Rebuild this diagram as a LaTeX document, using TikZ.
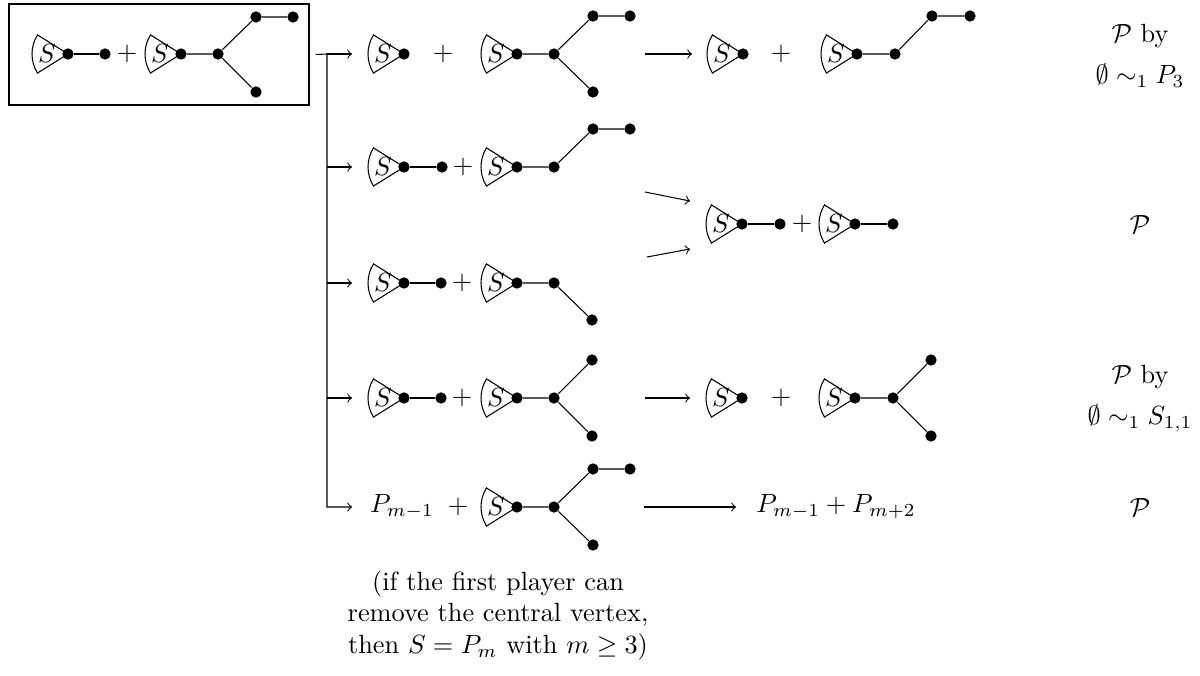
\documentclass[tikz,border=0pt]{standalone}
\usepackage{amsmath,amssymb}
\tikzset{
  fan/.pic={\draw[line width=0.4pt] (0,0) -- (148:36) arc[start angle=148,end angle=212,radius=36] -- cycle;
            \node (-s) at (-21,0) {$S$};},
}
\begin{document}
\begin{tikzpicture}[x=0.38pt,y=-0.38pt,
  dot/.style={circle,fill=black,inner sep=0pt,minimum size=4.3pt},
  outerbox/.style={draw,line width=1pt,inner sep=0pt,minimum width=114pt,minimum height=38.4pt,outer sep=2.5pt},
  arr/.style={->,line width=0.4pt},
  pl/.style={inner sep=0pt},
  lbl/.style={anchor=base,inner sep=0pt},
]
\useasboundingbox (0,0) rectangle (1200,676);

% ---------- start position (boxed) ----------
\node[outerbox] (box) at (159,54.5) {};
\pic (f0a) at (68,54) {fan};
\pic (f0b) at (181,54) {fan};
\node[dot] (b1) at (68,54) {};
\node[dot] (b2) at (105,54) {};
\node[pl]  (p0) at (127,54) {$+$};
\node[dot] (b3) at (181,54) {};
\node[dot] (b4) at (218,54) {};
\node[dot] (b5) at (256,17) {};
\node[dot] (b6) at (293,17) {};
\node[dot] (b7) at (256,92) {};
\draw (b1) -- (b2);
\draw (b3) -- (b4) -- (b5) -- (b6);
\draw (b4) -- (b7);

% ---------- branching connector ----------
\coordinate (j0) at (327,54);
\coordinate (j2) at (327,167);
\coordinate (j3) at (327,283);
\coordinate (j4) at (327,398);
\coordinate (j5) at (327,507);
\coordinate (e1) at (352,54);
\coordinate (e2) at (352,167);
\coordinate (e3) at (352,283);
\coordinate (e4) at (352,398);
\coordinate (e5) at (352,507);
\draw[arr] (box.east) -- (j0) -- (j5) -- (e5);
\draw[arr] (j0) -- (e1);
\draw[arr] (j2) -- (e2);
\draw[arr] (j3) -- (e3);
\draw[arr] (j4) -- (e4);

% ---------- row 1 ----------
\pic (f1a) at (404,54) {fan};
\pic (f1b) at (517,54) {fan};
\node[dot] (a1) at (404,54) {};
\node[pl]  (p1) at (443,54) {$+$};
\node[dot] (a2) at (517,54) {};
\node[dot] (a3) at (554,54) {};
\node[dot] (a4) at (593,16) {};
\node[dot] (a5) at (630,16) {};
\node[dot] (a6) at (593,92) {};
\draw (a2) -- (a3) -- (a4) -- (a5);
\draw (a3) -- (a6);
\coordinate (s1) at (645,54);
\coordinate (t1) at (692,54);
\draw[arr] (s1) -- (t1);
\pic (f1c) at (743,54) {fan};
\pic (f1d) at (857,54) {fan};
\node[dot] (c1) at (743,54) {};
\node[pl]  (q1) at (781,54) {$+$};
\node[dot] (c2) at (857,54) {};
\node[dot] (c3) at (895,54) {};
\node[dot] (c4) at (932,16) {};
\node[dot] (c5) at (970,16) {};
\draw (c2) -- (c3) -- (c4) -- (c5);
\node[lbl] (l1a) at (1140,43) {$\mathcal{P}$ by};
\node[lbl] (l1b) at (1140,84) {$\emptyset \sim_1 P_3$};

% ---------- row 2 ----------
\pic (f2a) at (404,167) {fan};
\pic (f2b) at (517,167) {fan};
\node[dot] (d1) at (404,167) {};
\node[dot] (d2) at (442,167) {};
\node[pl]  (p2) at (463,167) {$+$};
\node[dot] (d3) at (517,167) {};
\node[dot] (d4) at (554,167) {};
\node[dot] (d5) at (593,129) {};
\node[dot] (d6) at (630,129) {};
\draw (d1) -- (d2);
\draw (d3) -- (d4) -- (d5) -- (d6);

% ---------- row 3 ----------
\pic (f3a) at (404,283) {fan};
\pic (f3b) at (517,283) {fan};
\node[dot] (g1) at (404,283) {};
\node[dot] (g2) at (441,283) {};
\node[pl]  (p3) at (462,283) {$+$};
\node[dot] (g3) at (517,283) {};
\node[dot] (g4) at (554,283) {};
\node[dot] (g5) at (592,320) {};
\draw (g1) -- (g2);
\draw (g3) -- (g4) -- (g5);

% ---------- merged result of rows 2 and 3 ----------
\coordinate (ms1) at (645,192);
\coordinate (mt1) at (690,201);
\coordinate (ms2) at (647,257);
\coordinate (mt2) at (690,249);
\draw[arr] (ms1) -- (mt1);
\draw[arr] (ms2) -- (mt2);
\pic (fma) at (742,224) {fan};
\pic (fmb) at (855,224) {fan};
\node[dot] (m1) at (742,224) {};
\node[dot] (m2) at (780,224) {};
\node[pl]  (pm) at (802,224) {$+$};
\node[dot] (m3) at (855,224) {};
\node[dot] (m4) at (893,224) {};
\draw (m1) -- (m2);
\draw (m3) -- (m4);
\node (lm) at (1140,225) {$\mathcal{P}$};

% ---------- row 4 ----------
\pic (f4a) at (404,398) {fan};
\pic (f4b) at (517,398) {fan};
\node[dot] (h1) at (404,398) {};
\node[dot] (h2) at (441,398) {};
\node[pl]  (p4) at (462,398) {$+$};
\node[dot] (h3) at (517,398) {};
\node[dot] (h4) at (554,398) {};
\node[dot] (h5) at (592,360) {};
\node[dot] (h6) at (592,436) {};
\draw (h1) -- (h2);
\draw (h3) -- (h4) -- (h5);
\draw (h4) -- (h6);
\coordinate (s4) at (645,398);
\coordinate (t4) at (690,398);
\draw[arr] (s4) -- (t4);
\pic (f4c) at (742,398) {fan};
\pic (f4d) at (855,398) {fan};
\node[dot] (k1) at (742,398) {};
\node[pl]  (q4) at (781,398) {$+$};
\node[dot] (k2) at (855,398) {};
\node[dot] (k3) at (893,398) {};
\node[dot] (k4) at (931,360) {};
\node[dot] (k5) at (931,436) {};
\draw (k2) -- (k3) -- (k4);
\draw (k3) -- (k5);
\node[lbl] (l4a) at (1140,384) {$\mathcal{P}$ by};
\node[lbl] (l4b) at (1140,425) {$\emptyset \sim_1 S_{1,1}$};

% ---------- row 5 ----------
\node (pa) at (402,507) {$P_{m-1}$};
\node[pl] (p5) at (458,507) {$+$};
\pic (f5a) at (517,507) {fan};
\node[dot] (n1) at (517,507) {};
\node[dot] (n2) at (554,507) {};
\node[dot] (n3) at (593,469) {};
\node[dot] (n4) at (630,469) {};
\node[dot] (n5) at (593,545) {};
\draw (n1) -- (n2) -- (n3) -- (n4);
\draw (n2) -- (n5);
\coordinate (s5) at (644,507);
\coordinate (t5) at (736,507);
\draw[arr] (s5) -- (t5);
\node (pb) at (836,507) {$P_{m-1} + P_{m+2}$};
\node (l5) at (1140,508) {$\mathcal{P}$};

% ---------- caption ----------
\node[align=center,inner sep=0pt] (cap) at (498,615)
  {(if the first player can\\remove the central vertex,\\then $S = P_m$ with $m \geq 3$)};
\end{tikzpicture}
\end{document}
